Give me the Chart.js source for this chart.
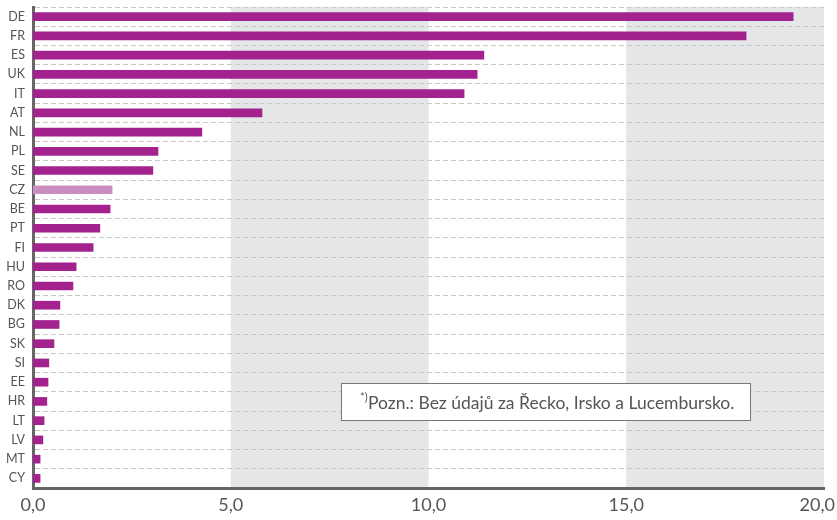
<!DOCTYPE html>
<html>
<head>
<meta charset="utf-8">
<script src="https://cdn.jsdelivr.net/npm/chart.js@4/dist/chart.umd.min.js"></script>
<style>
	html, body { margin: 0; padding: 0; background: #fff; }
	#wrap { width: 837px; height: 520px; position: relative; }
</style>
</head>
<body>
<div id="wrap"><canvas id="countryChart"></canvas></div>
<script>
const countries = ['DE', 'FR', 'ES', 'UK', 'IT', 'AT', 'NL', 'PL', 'SE', 'CZ', 'BE', 'PT', 'FI',
	'HU', 'RO', 'DK', 'BG', 'SK', 'SI', 'EE', 'HR', 'LT', 'LV', 'MT', 'CY'];
const values = [19.22, 18.03, 11.40, 11.23, 10.90, 5.79, 4.27, 3.16, 3.03, 2.00, 1.95, 1.69, 1.52,
	1.09, 1.01, 0.68, 0.66, 0.53, 0.40, 0.38, 0.35, 0.28, 0.25, 0.18, 0.18];
const highlight = 'CZ';
const xTicks = [0, 5, 10, 15, 20];
const shadedRanges = [[5, 10], [15, 20]];
const note = 'Pozn.: Bez údajů za Řecko, Irsko a Lucembursko.';

const barColor = '#a3228e';
const highlightColor = '#c98fc1';
const textColor = '#555555';
const fontFamily = 'Lato, "Noto Sans", sans-serif';

let barColors = countries.map(c => c == highlight ? highlightColor : barColor);

// grey bands behind the bars
const bandsPlugin = {
	id: 'bands',
	beforeDraw(chart) {
		let ctx = chart.ctx;
		let area = chart.chartArea;
		let x = chart.scales.x;
		ctx.save();
		ctx.fillStyle = '#e5e6e8';
		shadedRanges.forEach(r => {
			let x0 = x.getPixelForValue(r[0]);
			let x1 = x.getPixelForValue(r[1]);
			ctx.fillRect(x0, area.top, x1 - x0, area.bottom - area.top);
		});
		ctx.restore();
	}
};

// note box in lower right part
const notePlugin = {
	id: 'note',
	afterDraw(chart) {
		let ctx = chart.ctx;
		let area = chart.chartArea;
		let left = area.left + 308;
		let top = area.bottom - 105;
		let w = 409, h = 37;
		ctx.save();
		ctx.fillStyle = '#ffffff';
		ctx.fillRect(left, top, w, h);
		ctx.strokeStyle = '#777777';
		ctx.lineWidth = 1;
		ctx.strokeRect(left + 0.5, top + 0.5, w, h);
		ctx.fillStyle = textColor;
		ctx.textBaseline = 'alphabetic';
		ctx.font = '11px ' + fontFamily;
		let tx = left + 19;
		let ty = top + 26;
		ctx.fillText('*)', tx, ty - 8);
		ctx.font = '17.5px ' + fontFamily;
		ctx.fillText(note, tx + 8, ty);
		ctx.restore();
	}
};

let ctx = document.getElementById('countryChart');

let config = {
	type: 'bar',
	data: {
		labels: countries,
		datasets: [{
			data: values,
			backgroundColor: barColors,
			barThickness: 8,
			borderWidth: 0
		}]
	},
	options: {
		indexAxis: 'y',
		responsive: true,
		maintainAspectRatio: false,
		animation: false,
		layout: { padding: { top: 7, right: 13, bottom: 0, left: 0 } },
		plugins: {
			legend: { display: false },
			tooltip: { enabled: false }
		},
		scales: {
			x: {
				min: 0,
				max: 20,
				afterBuildTicks: s => { s.ticks = xTicks.map(v => ({ value: v })); },
				afterFit: s => { s.height = 32; s.paddingLeft = 0; s.paddingRight = 13; },
				grid: { display: false, drawTicks: false },
				border: { display: true, color: '#666666', width: 3 },
				ticks: {
					padding: 6,
					color: textColor,
					font: { family: fontFamily, size: 18 },
					maxRotation: 0,
					// last label pushed left so it stays inside the canvas
					callback: v => v.toFixed(1).replace('.', ',') + (v == 20 ? '\u2003' : '')
				}
			},
			y: {
				afterFit: s => { s.width = 33; s.paddingTop = 0; s.paddingBottom = 0; },
				grid: {
					offset: true,
					drawTicks: false,
					color: '#c8c8c8',
					lineWidth: 1
				},
				// border.dash dashes the grid lines, the axis line stays solid
				border: { display: true, color: '#666666', width: 3, dash: [5, 3] },
				ticks: {
					padding: 8,
					color: textColor,
					font: { family: fontFamily, size: 12.5 },
					autoSkip: false
				}
			}
		}
	},
	plugins: [bandsPlugin, notePlugin]
};

let countryChart = new Chart(ctx, config);
</script>
</body>
</html>
